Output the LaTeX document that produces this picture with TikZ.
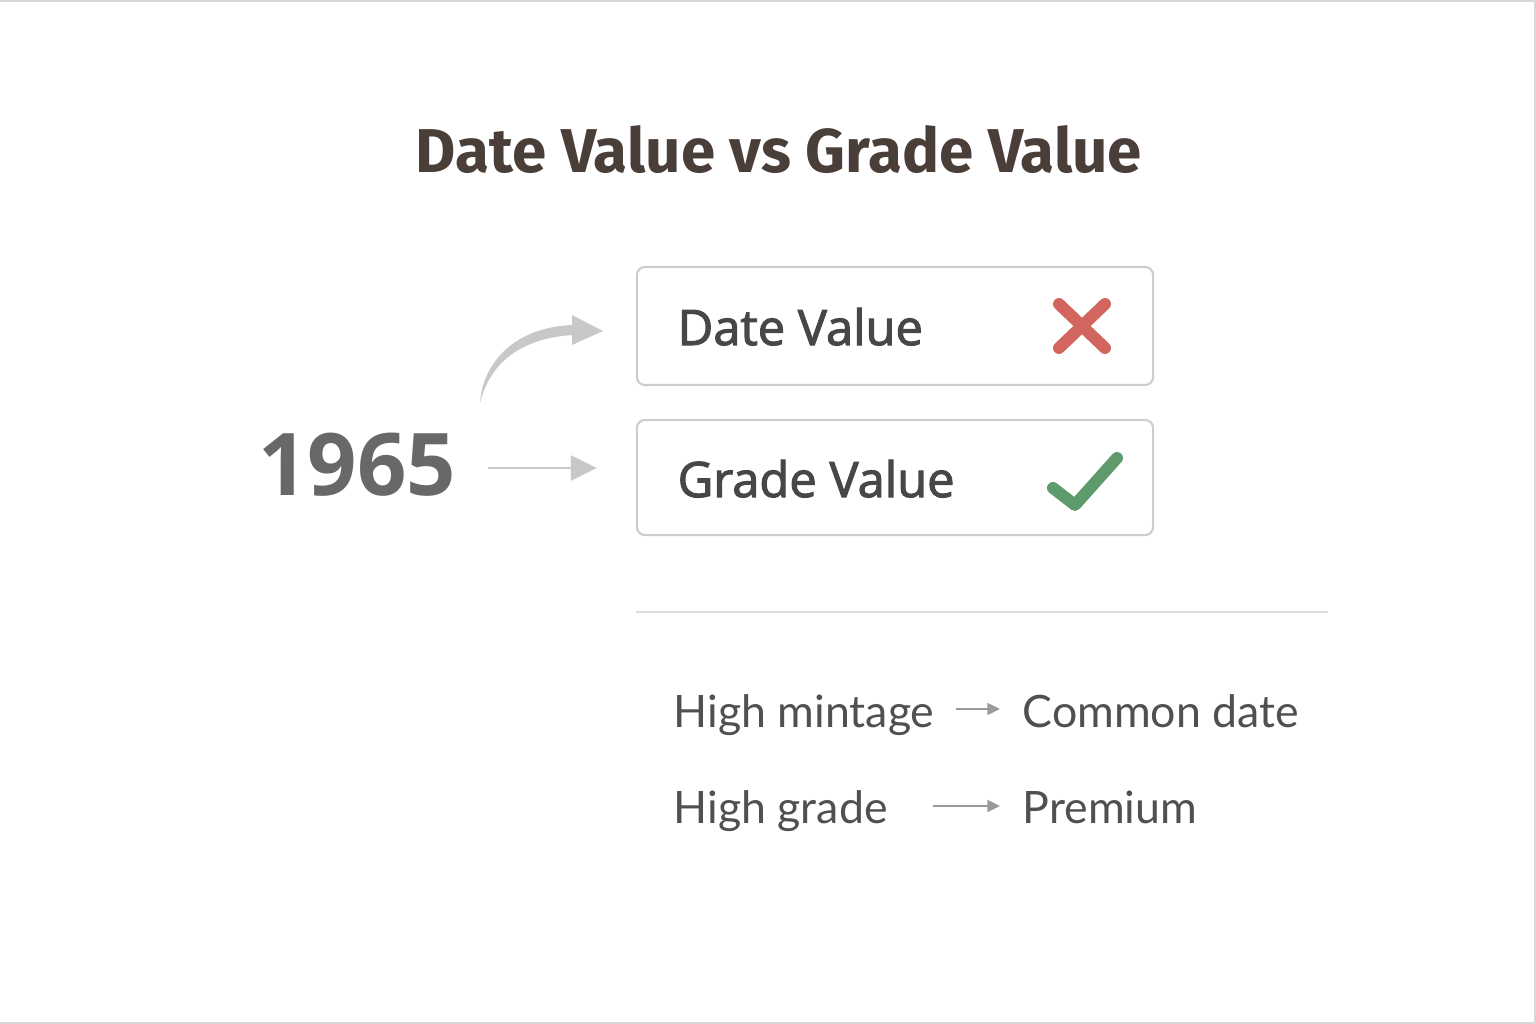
\documentclass[tikz,border=0pt]{standalone}
\usepackage{fontspec}
\setmainfont{Open Sans}
\newfontfamily\titlefont{Fira Sans}
\newfontfamily\rowfont{Lato}
\newfontfamily\boxfont[FakeBold=2.2]{Open Sans}
\usetikzlibrary{arrows.meta}
\usetikzlibrary{calc}
\usetikzlibrary{positioning}
\definecolor{titlebrown}{HTML}{4A3F38}
\definecolor{boxtext}{HTML}{474747}
\definecolor{yeargray}{HTML}{686868}
\definecolor{rowtext}{HTML}{505050}
\definecolor{boxline}{HTML}{CDCDCD}
\definecolor{sepline}{HTML}{DEDEDE}
\definecolor{arrowgray}{HTML}{C8C8C6}
\definecolor{smallarrowgray}{HTML}{9A9A9A}
\definecolor{crossred}{HTML}{D2665F}
\definecolor{checkgreen}{HTML}{5E9A6C}
\tikzset{
  valuebox/.style={draw=boxline,line width=0.6pt,rounded corners=2.3pt,minimum width=5.16cm},
  boxlabel/.style={anchor=base west,inner sep=0pt,text=boxtext,font=\boxfont\fontsize{13.9}{17}\selectfont},
  rowlabel/.style={anchor=base west,inner sep=0pt,text=rowtext,font=\rowfont\fontsize{12.7}{15}\selectfont},
  bigarrow/.style={draw=arrowgray,line width=0.45pt,-{Triangle[length=7.4pt,width=7.2pt]}},
  smallarrow/.style={draw=smallarrowgray,line width=0.45pt,-{Triangle[length=3.6pt,width=3.4pt]}},
  markline/.style={line width=3.4pt,line cap=round,line join=round}
}
\begin{document}
\begin{tikzpicture}[x=0.01cm,y=-0.01cm]
\useasboundingbox (0,0) rectangle (1536,1024);
\draw[draw=boxline!80,line width=0.5pt] (0,1) -- (1535,1) -- (1535,1023) -- (0,1023);

% title
\node[anchor=base,inner sep=0pt,text=titlebrown,font=\titlefont\bfseries\fontsize{17.6}{21}\selectfont] (title) at (779,172) {Date Value vs Grade Value};

% the two boxes
\node[valuebox,minimum height=1.18cm] (date) at (895,326) {};
\node[valuebox,minimum height=1.15cm] (grade) at (895,477.5) {};
\node[boxlabel] (datetxt) at (677,345) {Date Value};
\node[boxlabel] (gradetxt) at (677,497) {Grade Value};

% cross and check
\coordinate (cross) at (1082,326);
\draw[markline,crossred] ($(cross)+(-23,-22)$) -- ($(cross)+(23,22)$)
                         ($(cross)+(-23,22)$) -- ($(cross)+(23,-22)$);
\coordinate (check) at (1075,505);
\draw[markline,checkgreen] ($(check)+(-22,-17)$) -- (check) -- ($(check)+(42,-47)$);

% year
\node[inner sep=0pt,text=yeargray,font=\bfseries\fontsize{24.6}{28}\selectfont] (year) at (357,465) {1965};
\coordinate (ya) at ([xshift=0.32cm,yshift=-0.03cm]year.east);
\draw[bigarrow] (ya) -- ([xshift=-0.39cm]ya -| grade.west);

% curved tapered arrow to the date box
\coordinate (cs) at (480,403);
\coordinate (ch) at (573,330);
\fill[arrowgray] (cs) .. controls (483,362) and (515,327) .. ($(ch)+(0,-5)$)
  -- ($(ch)+(0,5)$) .. controls (522,338) and (490,362) .. (cs) -- cycle;
\fill[arrowgray] ($(ch)+(-1,-15)$) -- ($(ch)+(30,1)$) -- ($(ch)+(-1,15)$) -- cycle;

% separator
\draw[sepline,line width=0.6pt] (636,612) -- (1328,612);

% the two rows
\node[rowlabel] (mintage) at (673,727) {High mintage};
\node[rowlabel] (common) at (1022,727) {Common date};
\node[rowlabel] (highgrade) at (673,823) {High grade};
\node[rowlabel] (premium) at (1022,823) {Premium};
\draw[smallarrow] ([xshift=0.21cm,yshift=0.18cm]mintage.base east) -- ([xshift=-0.22cm,yshift=0.18cm]common.base west);
\draw[smallarrow] ([xshift=0.45cm,yshift=0.17cm]highgrade.base east) -- ([xshift=-0.22cm,yshift=0.17cm]premium.base west);
\end{tikzpicture}
\end{document}
